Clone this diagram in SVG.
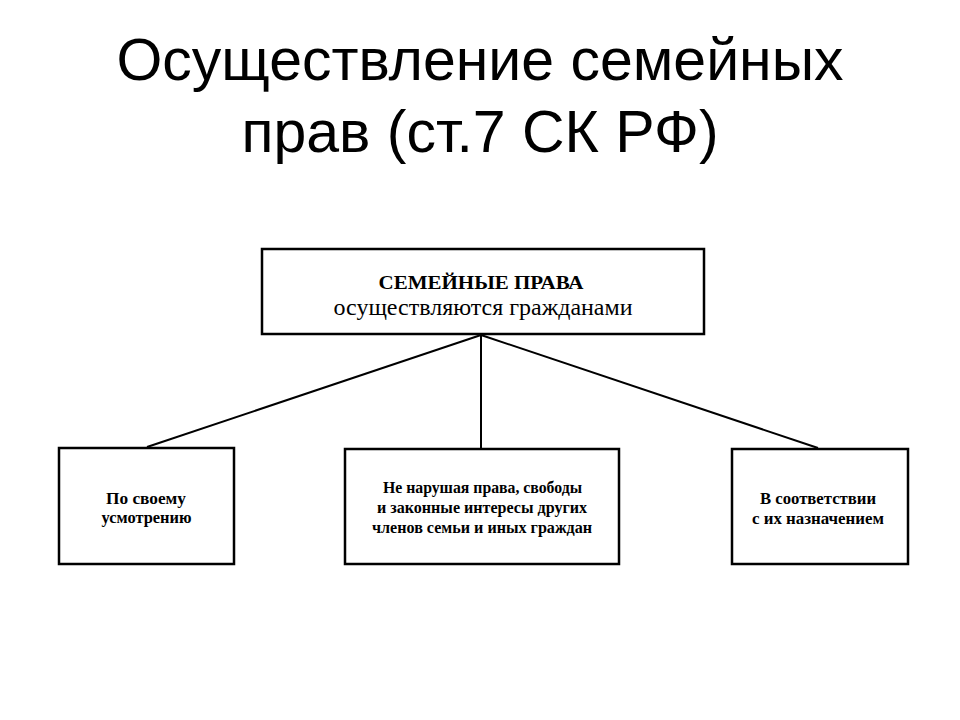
<svg xmlns="http://www.w3.org/2000/svg" width="960" height="720" viewBox="0 0 960 720">
<style>
.title{font-family:"Liberation Sans",Arial,sans-serif;font-size:59px;fill:#000;text-anchor:middle}
.box{fill:#fff;stroke:#000;stroke-width:2.5}
.t{font-family:"Liberation Serif","Times New Roman",serif;fill:#000;text-anchor:middle}
.s{font-weight:bold}
.conn line{stroke:#000;stroke-width:2}
</style>
<rect width="960" height="720" fill="#fff"/>
<text class="title" x="480" y="80">Осуществление семейных</text>
<text class="title" x="480" y="152">прав (ст.7 СК РФ)</text>
<g class="conn" id="connectors">
<line x1="481" y1="335" x2="147" y2="447"/>
<line x1="481" y1="335" x2="481" y2="448"/>
<line x1="481" y1="335" x2="818" y2="448"/>
</g>
<g id="root">
<rect class="box" x="262" y="249" width="442" height="85"/>
<text class="t" x="481" y="289" font-size="19" font-weight="bold" textLength="205" lengthAdjust="spacingAndGlyphs">СЕМЕЙНЫЕ ПРАВА</text>
<text class="t" x="483" y="315" font-size="24" textLength="299" lengthAdjust="spacingAndGlyphs">осуществляются гражданами</text>
</g>
<g id="left">
<rect class="box" x="59" y="448" width="175" height="116"/>
<text class="t s" x="146" y="504" font-size="17" textLength="80" lengthAdjust="spacingAndGlyphs">По своему</text>
<text class="t s" x="146.5" y="523" font-size="17" textLength="90" lengthAdjust="spacingAndGlyphs">усмотрению</text>
</g>
<g id="middle">
<rect class="box" x="345" y="449" width="274" height="115"/>
<text class="t s" x="482.5" y="493" font-size="16" textLength="199" lengthAdjust="spacingAndGlyphs">Не нарушая права, свободы</text>
<text class="t s" x="482" y="513" font-size="16" textLength="210" lengthAdjust="spacingAndGlyphs">и законные интересы других</text>
<text class="t s" x="482" y="533" font-size="16" textLength="220" lengthAdjust="spacingAndGlyphs">членов семьи и иных граждан</text>
</g>
<g id="right">
<rect class="box" x="732" y="449" width="176" height="115"/>
<text class="t s" x="818" y="504" font-size="16" textLength="116" lengthAdjust="spacingAndGlyphs">В соответствии</text>
<text class="t s" x="818" y="524" font-size="16" textLength="132" lengthAdjust="spacingAndGlyphs">с их назначением</text>
</g>
</svg>
